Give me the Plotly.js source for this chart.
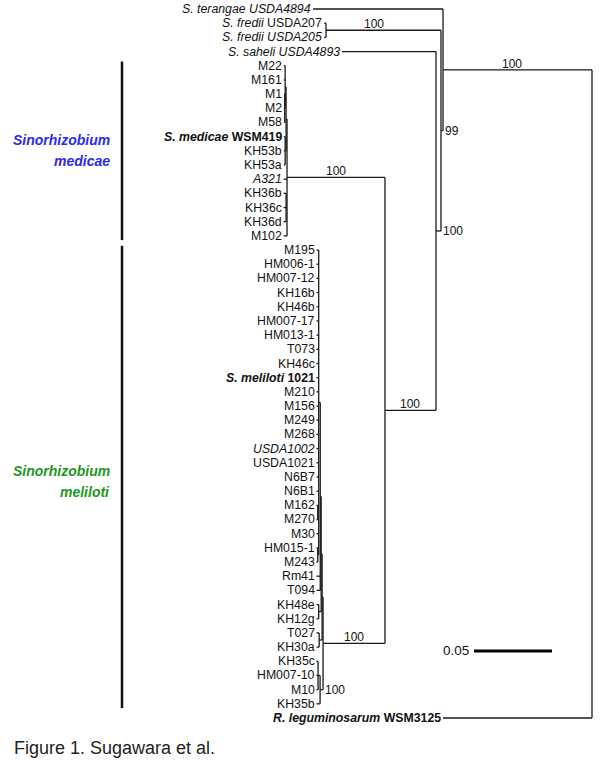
<!DOCTYPE html>
<html><head><meta charset="utf-8">
<script src="https://cdn.plot.ly/plotly-3.0.1.min.js"></script>
<style>html,body{margin:0;padding:0;background:#fff}#chart{width:600px;height:766px}</style>
</head><body><div id="chart"></div>
<script>
// ---------- DATA ----------
// Internal nodes (parents listed before children), branch lengths in substitutions/site
const nodeNames   = ['root','A','B','F','C','D','M','Mx','Ma','Mb','Mc','Kg','L','N3','N2','N1','G1','Ga','Gb','K48','T27','K35','K35i'];
const nodeParents = [null,'root','A','B','B','C','D','M','Mx','Ma','Mx','M','D','L','N3','N2','N1','G1','G1','N2','N3','L','K35'];
const nodeLengths = [0,0.0955,0.0013,0.0737,0.0032,0.0327,0.0628,0.0006,0.0006,0.0003,0.0006,0.0006,0.0397,0.0006,0.0006,0.0006,0.0010,0.0006,0.0006,0.0016,0.0019,0.0019,0.0013];

// Leaves in display order (top to bottom)
const leafLabels = [
  '<i>S. terangae USDA4894</i>','<i>S. fredii</i> USDA207','<i>S. fredii USDA205</i>','<i>S. saheli USDA4893</i>',
  'M22','M161','M1','M2','M58','<b><i>S. medicae</i> WSM419</b>','KH53b','KH53a','<i>A321</i>','KH36b','KH36c','KH36d','M102',
  'M195','HM006-1','HM007-12','KH16b','KH46b','HM007-17','HM013-1','T073','KH46c','<b><i>S. meliloti</i> 1021</b>',
  'M210','M156','M249','M268','<i>USDA1002</i>','USDA1021','N6B7','N6B1','M162','M270','M30','HM015-1','M243',
  'Rm41','T094','KH48e','KH12g','T027','KH30a','KH35c','HM007-10','M10','KH35b',
  '<b><i>R. leguminosarum</i> WSM3125</b>'
];
const leafParents = [
  'A','F','F','C',
  'Ma','Ma','Mb','Mb','Mb','Mc','Mc','Mc','M','Kg','Kg','Kg','M',
  'G1','G1','G1','G1','G1','G1','G1','G1','G1','G1',
  'G1','G1','G1','G1','G1','G1','G1','G1','Ga','Ga','G1','Gb','Gb',
  'N1','N1','K48','K48','T27','T27','K35i','K35i','K35i','K35',
  'root'
];
const leafLengths = [
  0.0833,0.0012,0.0012,0.0603,
  0.0008,0.0008,0.0005,0.0005,0.0005,0.0008,0.0008,0.0008,0.0022,0.0016,0.0016,0.0016,0.0022,
  0.0014,0.0014,0.0014,0.0014,0.0014,0.0014,0.0014,0.0014,0.0014,0.0014,
  0.0014,0.0014,0.0014,0.0014,0.0014,0.0014,0.0014,0.0014,0.0008,0.0008,0.0014,0.0008,0.0008,
  0.0024,0.0024,0.0014,0.0014,0.0017,0.0017,0.0010,0.0010,0.0010,0.0023,
  0.0955
];

// Bootstrap support values
const supportNodes  = ['A','B','F','C','D','M','L','K35'];
const supportValues = [100,99,100,100,100,100,100,100];

// Clades (first / last leaf index)
const cladeNames = [['Sinorhizobium','medicae'],['Sinorhizobium','meliloti']];
const cladeFirst = [4,17];
const cladeLast  = [16,49];

const scaleBarValue = 0.05;
const caption = 'Figure 1. Sugawara et al.';

// ---------- STYLE / LAYOUT CONSTANTS ----------
const FONT = 'Liberation Sans, Arial, Helvetica, sans-serif';
const W = 600, H = 766;
const rootPx = 592, pxPerUnit = 1560;      // x mapping
const y0Px = 9, pxPerLeaf = 14.18;          // y mapping
const cladeColors = ['#2a2aec','#1e961e'];
const cladeLabelShiftPx = [0, -5];
const supportShiftPx = {F:-10, A:-6};

// ---------- TREE LAYOUT ----------
const depth = {}, yPos = {}, children = {};
nodeNames.forEach((n,i)=>{
  depth[n] = nodeParents[i] ? depth[nodeParents[i]] + nodeLengths[i] : 0;
  children[n] = [];
});
nodeNames.forEach((n,i)=>{ if(nodeParents[i]) children[nodeParents[i]].push(n); });
leafLabels.forEach((l,i)=>{
  const k = 'leaf'+i;
  depth[k] = depth[leafParents[i]] + leafLengths[i];
  yPos[k] = i;
  children[leafParents[i]].push(k);
});
function getY(n){
  if(yPos[n] !== undefined) return yPos[n];
  const ys = children[n].map(getY);
  yPos[n] = (Math.min(...ys)+Math.max(...ys))/2;
  return yPos[n];
}
getY('root');

const lx = [], ly = [];
function seg(xa,ya,xb,yb){ lx.push(xa,xb,null); ly.push(ya,yb,null); }
const parentOf = {};
nodeNames.forEach((n,i)=>{ parentOf[n] = nodeParents[i]; });
leafLabels.forEach((l,i)=>{ parentOf['leaf'+i] = leafParents[i]; });
Object.keys(parentOf).forEach(n=>{
  const p = parentOf[n];
  if(p) seg(depth[p], yPos[n], depth[n], yPos[n]);
});
nodeNames.forEach(n=>{
  const ys = children[n].map(c=>yPos[c]);
  seg(depth[n], Math.min(...ys), depth[n], Math.max(...ys));
});

const traces = [{
  x: lx, y: ly, mode:'lines', type:'scatter',
  line:{color:'#1a1a1a', width:1.3}, hoverinfo:'skip', connectgaps:false
}];

// scale bar
const sbStart = (rootPx-552)/pxPerUnit;
const sbY = 45.27;
traces.push({
  x:[sbStart, sbStart+scaleBarValue], y:[sbY,sbY], mode:'lines', type:'scatter',
  line:{color:'#000', width:3}, hoverinfo:'skip'
});

const annotations = [];
// leaf labels
leafLabels.forEach((l,i)=>{
  annotations.push({
    x: depth['leaf'+i], y: i, xref:'x', yref:'y', text:l, showarrow:false,
    xanchor:'right', yanchor:'middle', xshift:0,
    font:{family:FONT, size:12.3, color:'#111'}
  });
});
// support values
supportNodes.forEach((n,i)=>{
  const p = parentOf[n];
  const lenPx = (depth[n]-depth[p])*pxPerUnit;
  if(lenPx > 25){
    annotations.push({x:(depth[n]+depth[p])/2, y:yPos[n], text:String(supportValues[i]), showarrow:false,
      xanchor:'center', yanchor:'bottom', yshift:-3, xshift: supportShiftPx[n] || 0,
      font:{family:FONT,size:12,color:'#111'}});
  } else {
    annotations.push({x:depth[p], y:yPos[n], text:String(supportValues[i]), showarrow:false,
      xanchor:'left', yanchor:'middle', xshift:0, font:{family:FONT,size:12,color:'#111'}});
  }
});
// scale bar label
annotations.push({x:sbStart+scaleBarValue, y:sbY, text:String(scaleBarValue), showarrow:false,
  xanchor:'right', yanchor:'middle', xshift:-3, font:{family:FONT,size:13.5,color:'#111'}});

// clade bars and labels
const shapes = [];
cladeNames.forEach((c,i)=>{
  const y1 = cladeFirst[i]-0.3, y2 = cladeLast[i]+0.3;
  shapes.push({type:'line', xref:'paper', yref:'y', x0:122/W, x1:122/W, y0:y1, y1:y2,
    line:{color:'#111', width:2.5}});
  const ym = (y1+y2)/2;
  c.forEach((t,j)=>{
    annotations.push({xref:'paper', yref:'y', x:112/W, y:ym, text:'<b><i>'+t+'</i></b>', showarrow:false,
      xanchor:'right', yanchor:'middle', yshift: (j===0 ? 10.5 : -10.5) + cladeLabelShiftPx[i],
      font:{family:FONT, size:14, color:cladeColors[i]}});
  });
});
// caption
annotations.push({xref:'paper', yref:'paper', x:12/W, y:1-748/H, text:caption, showarrow:false,
  xanchor:'left', yanchor:'middle', font:{family:FONT, size:18, color:'#222'}});

const layout = {
  width:W, height:H, margin:{l:0,r:0,t:0,b:0},
  paper_bgcolor:'#fff', plot_bgcolor:'#fff', showlegend:false, hovermode:false,
  xaxis:{range:[rootPx/pxPerUnit, (rootPx-W)/pxPerUnit], visible:false, fixedrange:true},
  yaxis:{range:[(H-y0Px)/pxPerLeaf, -y0Px/pxPerLeaf], visible:false, fixedrange:true},
  annotations, shapes
};
Plotly.newPlot('chart', traces, layout, {staticPlot:true, displayModeBar:false});
</script></body></html>
